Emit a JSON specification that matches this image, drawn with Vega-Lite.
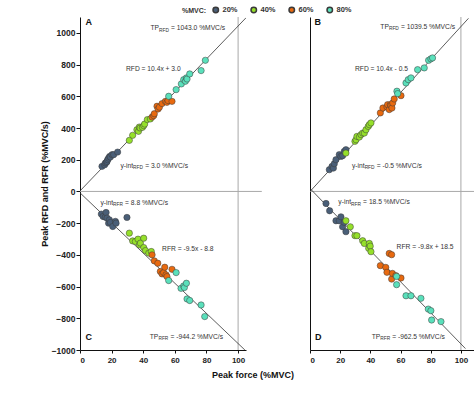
{
"$schema": "https://vega.github.io/schema/vega-lite/v6.json",
"padding": {"left": 40, "top": 6, "right": 5, "bottom": 5},
"background": "white",
"config": {
  "view": {"stroke": null},
  "font": "Liberation Sans",
  "concat": {"spacing": 15},
  "axis": {"grid": false, "domainColor": "#111", "domainWidth": 1, "tickColor": "#111", "tickSize": 3, "labelFont": "Liberation Sans", "labelFontWeight": "bold", "labelColor": "#222", "titleFont": "Liberation Sans", "titleFontWeight": "bold", "titleFontSize": 9, "titleColor": "#111", "format": "d"},
  "axisX": {"labelFontSize": 8, "labelPadding": 3, "titlePadding": 6},
  "axisY": {"labelFontSize": 8.5, "labelPadding": 1, "tickSize": 4, "titlePadding": 2},
  "text": {"font": "Liberation Sans"}
},
"datasets": {
  "pts": [
    {"p":"L","m":"20%","x":13.9,"y":158},{"p":"L","m":"20%","x":15.6,"y":168},{"p":"L","m":"20%","x":16.0,"y":179},{"p":"L","m":"20%","x":16.7,"y":183},{"p":"L","m":"20%","x":17.1,"y":189},{"p":"L","m":"20%","x":17.5,"y":200},{"p":"L","m":"20%","x":18.1,"y":210},{"p":"L","m":"20%","x":18.8,"y":221},{"p":"L","m":"20%","x":19.2,"y":217},{"p":"L","m":"20%","x":20.3,"y":232},{"p":"L","m":"20%","x":21.3,"y":232},{"p":"L","m":"20%","x":23.8,"y":248},
    {"p":"L","m":"40%","x":31.2,"y":322},{"p":"L","m":"40%","x":33.3,"y":354},{"p":"L","m":"40%","x":36.0,"y":389},{"p":"L","m":"40%","x":37.0,"y":379},{"p":"L","m":"40%","x":37.5,"y":406},{"p":"L","m":"40%","x":38.0,"y":400},{"p":"L","m":"40%","x":39.5,"y":404},{"p":"L","m":"40%","x":40.3,"y":415},{"p":"L","m":"40%","x":40.9,"y":425},{"p":"L","m":"40%","x":42.6,"y":453},{"p":"L","m":"40%","x":44.5,"y":457},
    {"p":"L","m":"60%","x":45.6,"y":469},{"p":"L","m":"60%","x":46.6,"y":478},{"p":"L","m":"60%","x":47.0,"y":490},{"p":"L","m":"60%","x":48.7,"y":537},{"p":"L","m":"60%","x":49.4,"y":520},{"p":"L","m":"60%","x":50.2,"y":531},{"p":"L","m":"60%","x":51.9,"y":554},{"p":"L","m":"60%","x":54.0,"y":568},{"p":"L","m":"60%","x":55.0,"y":562},{"p":"L","m":"60%","x":55.7,"y":573},{"p":"L","m":"60%","x":58.2,"y":568},
    {"p":"L","m":"80%","x":56.1,"y":600},{"p":"L","m":"80%","x":60.8,"y":642},{"p":"L","m":"80%","x":64.1,"y":678},{"p":"L","m":"80%","x":65.6,"y":705},{"p":"L","m":"80%","x":66.7,"y":695},{"p":"L","m":"80%","x":67.3,"y":716},{"p":"L","m":"80%","x":67.7,"y":709},{"p":"L","m":"80%","x":69.4,"y":741},{"p":"L","m":"80%","x":76.6,"y":762},{"p":"L","m":"80%","x":79.3,"y":827},
    {"p":"L","m":"20%","x":13.5,"y":-143},{"p":"L","m":"20%","x":14.6,"y":-158},{"p":"L","m":"20%","x":16.0,"y":-162},{"p":"L","m":"20%","x":16.5,"y":-133},{"p":"L","m":"20%","x":17.1,"y":-168},{"p":"L","m":"20%","x":18.1,"y":-200},{"p":"L","m":"20%","x":18.6,"y":-179},{"p":"L","m":"20%","x":19.2,"y":-196},{"p":"L","m":"20%","x":20.7,"y":-221},{"p":"L","m":"20%","x":22.4,"y":-189},{"p":"L","m":"20%","x":22.8,"y":-200},{"p":"L","m":"20%","x":29.7,"y":-164},
    {"p":"L","m":"40%","x":31.2,"y":-263},{"p":"L","m":"40%","x":33.3,"y":-312},{"p":"L","m":"40%","x":35.0,"y":-316},{"p":"L","m":"40%","x":36.7,"y":-301},{"p":"L","m":"40%","x":37.6,"y":-337},{"p":"L","m":"40%","x":38.2,"y":-326},{"p":"L","m":"40%","x":40.3,"y":-295},{"p":"L","m":"40%","x":40.3,"y":-354},{"p":"L","m":"40%","x":41.4,"y":-373},{"p":"L","m":"40%","x":43.5,"y":-389},{"p":"L","m":"40%","x":45.1,"y":-379},
    {"p":"L","m":"60%","x":45.6,"y":-400},{"p":"L","m":"60%","x":47.0,"y":-438},{"p":"L","m":"60%","x":49.2,"y":-453},{"p":"L","m":"60%","x":50.8,"y":-505},{"p":"L","m":"60%","x":51.9,"y":-520},{"p":"L","m":"60%","x":52.9,"y":-512},{"p":"L","m":"60%","x":53.6,"y":-478},{"p":"L","m":"60%","x":54.4,"y":-526},{"p":"L","m":"60%","x":55.0,"y":-537},{"p":"L","m":"60%","x":58.2,"y":-491},
    {"p":"L","m":"80%","x":56.1,"y":-562},{"p":"L","m":"80%","x":60.8,"y":-512},{"p":"L","m":"80%","x":63.9,"y":-611},{"p":"L","m":"80%","x":65.6,"y":-596},{"p":"L","m":"80%","x":66.0,"y":-606},{"p":"L","m":"80%","x":67.3,"y":-579},{"p":"L","m":"80%","x":67.7,"y":-678},{"p":"L","m":"80%","x":69.4,"y":-688},{"p":"L","m":"80%","x":76.6,"y":-716},{"p":"L","m":"80%","x":78.9,"y":-789},
    {"p":"R","m":"20%","x":12.8,"y":137},{"p":"R","m":"20%","x":14.6,"y":158},{"p":"R","m":"20%","x":15.5,"y":147},{"p":"R","m":"20%","x":16.1,"y":175},{"p":"R","m":"20%","x":17.2,"y":200},{"p":"R","m":"20%","x":19.4,"y":232},{"p":"R","m":"20%","x":20.5,"y":221},{"p":"R","m":"20%","x":21.6,"y":225},{"p":"R","m":"20%","x":22.7,"y":253},{"p":"R","m":"20%","x":23.8,"y":263},
    {"p":"R","m":"40%","x":23.8,"y":242},{"p":"R","m":"40%","x":29.8,"y":316},{"p":"R","m":"40%","x":30.5,"y":326},{"p":"R","m":"40%","x":31.1,"y":347},{"p":"R","m":"40%","x":32.7,"y":343},{"p":"R","m":"40%","x":33.8,"y":358},{"p":"R","m":"40%","x":34.9,"y":368},{"p":"R","m":"40%","x":36.0,"y":368},{"p":"R","m":"40%","x":37.1,"y":389},{"p":"R","m":"40%","x":38.6,"y":410},{"p":"R","m":"40%","x":39.3,"y":421},{"p":"R","m":"40%","x":40.4,"y":432},
    {"p":"R","m":"60%","x":46.6,"y":495},{"p":"R","m":"60%","x":48.3,"y":526},{"p":"R","m":"60%","x":51.0,"y":533},{"p":"R","m":"60%","x":51.4,"y":547},{"p":"R","m":"60%","x":52.5,"y":516},{"p":"R","m":"60%","x":53.2,"y":547},{"p":"R","m":"60%","x":53.6,"y":541},{"p":"R","m":"60%","x":54.3,"y":526},{"p":"R","m":"60%","x":54.8,"y":558},{"p":"R","m":"60%","x":55.8,"y":583},{"p":"R","m":"60%","x":60.3,"y":604},
    {"p":"R","m":"80%","x":57.6,"y":632},{"p":"R","m":"80%","x":58.1,"y":617},{"p":"R","m":"80%","x":63.6,"y":684},{"p":"R","m":"80%","x":65.1,"y":705},{"p":"R","m":"80%","x":66.9,"y":716},{"p":"R","m":"80%","x":71.3,"y":768},{"p":"R","m":"80%","x":75.7,"y":779},{"p":"R","m":"80%","x":78.6,"y":827},{"p":"R","m":"80%","x":80.1,"y":836},{"p":"R","m":"80%","x":81.2,"y":842},
    {"p":"R","m":"20%","x":10.6,"y":-76},{"p":"R","m":"20%","x":13.0,"y":-122},{"p":"R","m":"20%","x":17.2,"y":-185},{"p":"R","m":"20%","x":19.4,"y":-185},{"p":"R","m":"20%","x":20.5,"y":-160},{"p":"R","m":"20%","x":21.6,"y":-223},{"p":"R","m":"20%","x":22.7,"y":-195},{"p":"R","m":"20%","x":23.8,"y":-254},
    {"p":"R","m":"40%","x":23.8,"y":-185},{"p":"R","m":"40%","x":26.7,"y":-223},{"p":"R","m":"40%","x":29.8,"y":-279},{"p":"R","m":"40%","x":31.1,"y":-279},{"p":"R","m":"40%","x":34.9,"y":-311},{"p":"R","m":"40%","x":36.0,"y":-328},{"p":"R","m":"40%","x":38.9,"y":-359},{"p":"R","m":"40%","x":39.3,"y":-328},{"p":"R","m":"40%","x":39.9,"y":-345},{"p":"R","m":"40%","x":40.4,"y":-380},
    {"p":"R","m":"60%","x":46.6,"y":-468},{"p":"R","m":"60%","x":50.2,"y":-479},{"p":"R","m":"60%","x":51.0,"y":-510},{"p":"R","m":"60%","x":52.5,"y":-391},{"p":"R","m":"60%","x":54.1,"y":-399},{"p":"R","m":"60%","x":54.1,"y":-553},{"p":"R","m":"60%","x":54.6,"y":-517},{"p":"R","m":"60%","x":56.9,"y":-531},{"p":"R","m":"60%","x":60.3,"y":-546},
    {"p":"R","m":"80%","x":57.4,"y":-536},{"p":"R","m":"80%","x":57.4,"y":-588},{"p":"R","m":"80%","x":63.6,"y":-658},{"p":"R","m":"80%","x":66.9,"y":-658},{"p":"R","m":"80%","x":73.5,"y":-674},{"p":"R","m":"80%","x":78.4,"y":-742},{"p":"R","m":"80%","x":80.1,"y":-752},{"p":"R","m":"80%","x":80.6,"y":-811},{"p":"R","m":"80%","x":86.8,"y":-821}
  ],
  "fits": [
    {"p":"L","s":"RFD","x":0,"y":3.0},{"p":"L","s":"RFD","x":105,"y":1095},
    {"p":"L","s":"RFR","x":0,"y":-8.8},{"p":"L","s":"RFR","x":104.3,"y":-1000},
    {"p":"R","s":"RFD","x":0,"y":-0.5},{"p":"R","s":"RFD","x":105,"y":1091.5},
    {"p":"R","s":"RFR","x":0,"y":18.5},{"p":"R","s":"RFR","x":103,"y":-990.9}
  ],
  "vref": [
    {"p":"L","x":100,"y":-1000,"y2":1100},{"p":"R","x":100,"y":-1000,"y2":1100}
  ],
  "href": [
    {"p":"L","x":0,"x2":115,"y":0},{"p":"R","x":0,"x2":110,"y":0}
  ],
  "texts": [
    {"p":"L","x":44.6,"y":1028,"t":"TP"},{"p":"L","x":57.6,"y":1028,"t":"= 1043.0 %MVC/s"},
    {"p":"L","x":29.1,"y":769,"t":"RFD = 10.4x + 3.0"},
    {"p":"L","x":25.6,"y":162,"t":"y-int"},{"p":"L","x":41.2,"y":162,"t":"= 3.0 %MVC/s"},
    {"p":"L","x":12.9,"y":-73,"t":"y-int"},{"p":"L","x":28.5,"y":-73,"t":"= 8.8 %MVC/s"},
    {"p":"L","x":51.9,"y":-362,"t":"RFR = -9.5x - 8.8"},
    {"p":"L","x":44.1,"y":-916,"t":"TP"},{"p":"L","x":57.2,"y":-916,"t":"= -944.2 %MVC/s"},
    {"p":"R","x":46.6,"y":1038,"t":"TP"},{"p":"R","x":60.3,"y":1038,"t":"= 1039.5 %MVC/s"},
    {"p":"R","x":29.8,"y":769,"t":"RFD = 10.4x - 0.5"},
    {"p":"R","x":27.8,"y":162,"t":"y-int"},{"p":"R","x":44.2,"y":162,"t":"= -0.5 %MVC/s"},
    {"p":"R","x":18.8,"y":-69,"t":"y-int"},{"p":"R","x":35.2,"y":-69,"t":"= 18.5 %MVC/s"},
    {"p":"R","x":57.4,"y":-351,"t":"RFR = -9.8x + 18.5"},
    {"p":"R","x":40.9,"y":-916,"t":"TP"},{"p":"R","x":54.5,"y":-916,"t":"= -962.5 %MVC/s"}
  ],
  "subs": [
    {"p":"L","x":50.0,"y":1028,"t":"RFD"},{"p":"L","x":33.6,"y":162,"t":"RFD"},{"p":"L","x":20.9,"y":-73,"t":"RFR"},{"p":"L","x":49.6,"y":-916,"t":"RFR"},
    {"p":"R","x":52.3,"y":1038,"t":"RFD"},{"p":"R","x":36.2,"y":162,"t":"RFD"},{"p":"R","x":27.2,"y":-69,"t":"RFR"},{"p":"R","x":46.6,"y":-916,"t":"RFR"}
  ],
  "letters": [
    {"p":"L","x":3.4,"y":1066,"t":"A"},{"p":"L","x":3.4,"y":-916,"t":"C"},
    {"p":"R","x":2.9,"y":1068,"t":"B"},{"p":"R","x":3.3,"y":-916,"t":"D"}
  ]
},
"hconcat": [
  {
    "width": 166, "height": 333,
    "encoding": {
      "x": {"field": "x", "type": "quantitative", "scale": {"domain": [0, 105], "nice": false, "zero": false},
            "axis": {"values": [0, 20, 40, 60, 80, 100], "title": "Peak force (%MVC)", "titleX": 172.5}},
      "y": {"field": "y", "type": "quantitative", "scale": {"domain": [-1000, 1100], "nice": false, "zero": false},
            "axis": {"values": [-1000, -800, -600, -400, -200, 0, 200, 400, 600, 800, 1000], "title": "Peak RFD and RFR (%MVC/s)"}}
    },
    "layer": [
      {"data": {"name": "vref"}, "transform": [{"filter": "datum.p == 'L'"}], "mark": {"type": "rule", "color": "#a8a8a8", "strokeWidth": 1}, "encoding": {"y2": {"field": "y2"}}},
      {"data": {"name": "href"}, "transform": [{"filter": "datum.p == 'L'"}], "mark": {"type": "rule", "color": "#a8a8a8", "strokeWidth": 1, "clip": false}, "encoding": {"x2": {"field": "x2"}}},
      {"data": {"name": "fits"}, "transform": [{"filter": "datum.p == 'L'"}], "mark": {"type": "line", "color": "#333", "strokeWidth": 0.8, "clip": true}, "encoding": {"detail": {"field": "s"}}},
      {"data": {"name": "pts"}, "transform": [{"filter": "datum.p == 'L'"}], "mark": {"type": "point", "filled": true, "size": 40, "stroke": "#3a3a3a", "strokeWidth": 0.5, "opacity": 1},
       "encoding": {"color": {"field": "m", "type": "nominal",
          "scale": {"domain": ["20%", "40%", "60%", "80%"], "range": ["#4a5f78", "#95e02a", "#e8690f", "#5ae0bb"]},
          "legend": {"title": "%MVC:", "orient": "none", "legendX": 102, "legendY": -11, "direction": "horizontal", "titleOrient": "left", "symbolType": "circle", "symbolSize": 30, "labelFontSize": 7.5, "titleFontSize": 7, "labelFontWeight": "bold", "titleFontWeight": "bold", "labelColor": "#333", "titleColor": "#333", "columnPadding": 10, "labelOffset": 3, "titlePadding": 5, "titleBaseline": "middle"}}}},
      {"data": {"name": "texts"}, "transform": [{"filter": "datum.p == 'L'"}], "mark": {"type": "text", "fontSize": 6.7, "align": "left", "baseline": "middle", "color": "#333"}, "encoding": {"text": {"field": "t"}}},
      {"data": {"name": "subs"}, "transform": [{"filter": "datum.p == 'L'"}], "mark": {"type": "text", "fontSize": 4.8, "align": "left", "baseline": "middle", "dy": 2.2, "color": "#333"}, "encoding": {"text": {"field": "t"}}},
      {"data": {"name": "letters"}, "transform": [{"filter": "datum.p == 'L'"}], "mark": {"type": "text", "fontSize": 9, "fontWeight": "bold", "align": "left", "baseline": "middle", "color": "#111"}, "encoding": {"text": {"field": "t"}}}
    ]
  },
  {
    "width": 166, "height": 333,
    "encoding": {
      "x": {"field": "x", "type": "quantitative", "scale": {"domain": [0, 110], "nice": false, "zero": false},
            "axis": {"values": [0, 20, 40, 60, 80, 100], "title": null}},
      "y": {"field": "y", "type": "quantitative", "scale": {"domain": [-1000, 1100], "nice": false, "zero": false},
            "axis": {"labels": false, "ticks": false, "title": null}}
    },
    "layer": [
      {"data": {"name": "vref"}, "transform": [{"filter": "datum.p == 'R'"}], "mark": {"type": "rule", "color": "#a8a8a8", "strokeWidth": 1}, "encoding": {"y2": {"field": "y2"}}},
      {"data": {"name": "href"}, "transform": [{"filter": "datum.p == 'R'"}], "mark": {"type": "rule", "color": "#a8a8a8", "strokeWidth": 1}, "encoding": {"x2": {"field": "x2"}}},
      {"data": {"name": "fits"}, "transform": [{"filter": "datum.p == 'R'"}], "mark": {"type": "line", "color": "#333", "strokeWidth": 0.8, "clip": true}, "encoding": {"detail": {"field": "s"}}},
      {"data": {"name": "pts"}, "transform": [{"filter": "datum.p == 'R'"}], "mark": {"type": "point", "filled": true, "size": 40, "stroke": "#3a3a3a", "strokeWidth": 0.5, "opacity": 1},
       "encoding": {"color": {"field": "m", "type": "nominal", "scale": {"domain": ["20%", "40%", "60%", "80%"], "range": ["#4a5f78", "#95e02a", "#e8690f", "#5ae0bb"]}}}},
      {"data": {"name": "texts"}, "transform": [{"filter": "datum.p == 'R'"}], "mark": {"type": "text", "fontSize": 6.7, "align": "left", "baseline": "middle", "color": "#333"}, "encoding": {"text": {"field": "t"}}},
      {"data": {"name": "subs"}, "transform": [{"filter": "datum.p == 'R'"}], "mark": {"type": "text", "fontSize": 4.8, "align": "left", "baseline": "middle", "dy": 2.2, "color": "#333"}, "encoding": {"text": {"field": "t"}}},
      {"data": {"name": "letters"}, "transform": [{"filter": "datum.p == 'R'"}], "mark": {"type": "text", "fontSize": 9, "fontWeight": "bold", "align": "left", "baseline": "middle", "color": "#111"}, "encoding": {"text": {"field": "t"}}}
    ]
  }
]
}
